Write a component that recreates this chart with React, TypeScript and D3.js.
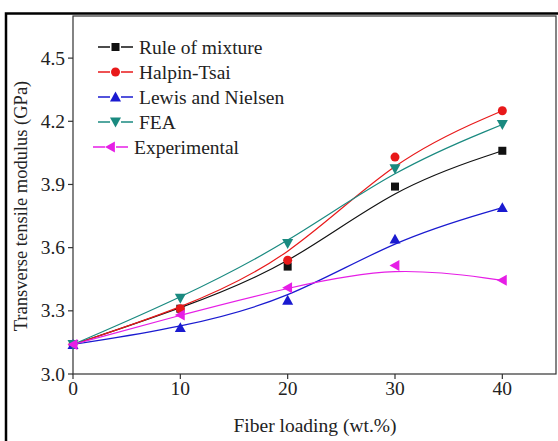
import React from "react";
import * as d3 from "d3";

const loading = [0, 10, 20, 30, 40];
const ruleOfMixture = [3.14, 3.31, 3.51, 3.89, 4.06];
const halpinTsai = [3.14, 3.31, 3.54, 4.03, 4.25];
const lewisNielsen = [3.14, 3.22, 3.35, 3.64, 3.79];
const fea = [3.14, 3.36, 3.62, 3.975, 4.185];
const experimental = [3.14, 3.28, 3.41, 3.515, 3.445];
const xTicks = [0, 10, 20, 30, 40];
const yTicks = [3.0, 3.3, 3.6, 3.9, 4.2, 4.5];

type Series = { name: string; values: number[]; color: string; marker: string };
const series: Series[] = [
  { name: "Rule of mixture", values: ruleOfMixture, color: "#111111", marker: "square" },
  { name: "Halpin-Tsai", values: halpinTsai, color: "#e8191a", marker: "circle" },
  { name: "Lewis and Nielsen", values: lewisNielsen, color: "#1a1ad0", marker: "up" },
  { name: "FEA", values: fea, color: "#1a8a80", marker: "down" },
  { name: "Experimental", values: experimental, color: "#e61ee6", marker: "left" },
];

const W = 558, H = 441;
const L = 73, R = 556, T = 16, B = 374;
const font = "'Liberation Serif', 'Times New Roman', serif";

function Marker({ type, x, y, color }: { type: string; x: number; y: number; color: string }) {
  if (type === "square") return <rect x={x - 4} y={y - 4} width={8} height={8} fill={color} />;
  if (type === "circle") return <circle cx={x} cy={y} r={4.5} fill={color} />;
  const s = 5.5;
  let pts: [number, number][] = [];
  if (type === "up") pts = [[x, y - s], [x - s, y + s * 0.8], [x + s, y + s * 0.8]];
  if (type === "down") pts = [[x, y + s], [x - s, y - s * 0.8], [x + s, y - s * 0.8]];
  if (type === "left") pts = [[x - s, y], [x + s * 0.8, y - s], [x + s * 0.8, y + s]];
  return <polygon points={pts.map((p) => p.join(",")).join(" ")} fill={color} />;
}

export default function App() {
  const x = d3.scaleLinear().domain([0, 45]).range([L, R]);
  const y = d3.scaleLinear().domain([3.0, 4.7]).range([B, T]);
  const line = d3
    .line<number>()
    .x((_, i) => x(loading[i]))
    .y((v) => y(v))
    .curve(d3.curveBasis);

  const legendRows = [47, 72, 97, 122, 147];
  const legendX = [98, 98, 98, 98, 93];
  const fs = 19.5;

  return (
    <svg width={W} height={H} style={{ position: "absolute", left: 0, top: 0, background: "#fff" }}>
      <rect x={0} y={0} width={W} height={H} fill="#fff" />
      <rect x={6} y={13.5} width={W + 20} height={H + 20} fill="none" stroke="#000" strokeWidth={2.5} />
      <rect x={L} y={T} width={R - L} height={B - T} fill="none" stroke="#333" strokeWidth={1.2} />
      {xTicks.map((t) => (
        <g key={"x" + t}>
          <line x1={x(t)} x2={x(t)} y1={B} y2={B + 5} stroke="#333" strokeWidth={1.2} />
          <text x={x(t)} y={395} fontSize={fs} fontFamily={font} textAnchor="middle" fill="#222">
            {t}
          </text>
        </g>
      ))}
      {yTicks.map((t) => (
        <g key={"y" + t}>
          <line x1={L - 5} x2={L} y1={y(t)} y2={y(t)} stroke="#333" strokeWidth={1.2} />
          <text x={65} y={y(t) + 6.5} fontSize={fs} fontFamily={font} textAnchor="end" fill="#222">
            {t.toFixed(1)}
          </text>
        </g>
      ))}
      <text x={315} y={432} fontSize={fs} fontFamily={font} textAnchor="middle" fill="#222">
        Fiber loading (wt.%)
      </text>
      <text
        transform={`translate(27,206) rotate(-90)`}
        fontSize={18.5}
        fontFamily={font}
        textAnchor="middle"
        fill="#222"
      >
        Transverse tensile modulus (GPa)
      </text>
      {series.map((s) => (
        <g key={s.name}>
          <path d={line(s.values) || ""} fill="none" stroke={s.color} strokeWidth={1.2} />
          {s.values.map((v, i) => (
            <Marker key={i} type={s.marker} x={x(loading[i])} y={y(v)} color={s.color} />
          ))}
        </g>
      ))}
      {series.map((s, i) => {
        const lx = legendX[i];
        const ly = legendRows[i];
        return (
          <g key={"lg" + s.name}>
            <line x1={lx} x2={lx + 12} y1={ly} y2={ly} stroke={s.color} strokeWidth={1.5} />
            <line x1={lx + 23} x2={lx + 35} y1={ly} y2={ly} stroke={s.color} strokeWidth={1.5} />
            <Marker type={s.marker} x={lx + 17.5} y={ly} color={s.color} />
            <text x={lx + 41} y={ly + 6.5} fontSize={fs} fontFamily={font} fill="#222">
              {s.name}
            </text>
          </g>
        );
      })}
    </svg>
  );
}
